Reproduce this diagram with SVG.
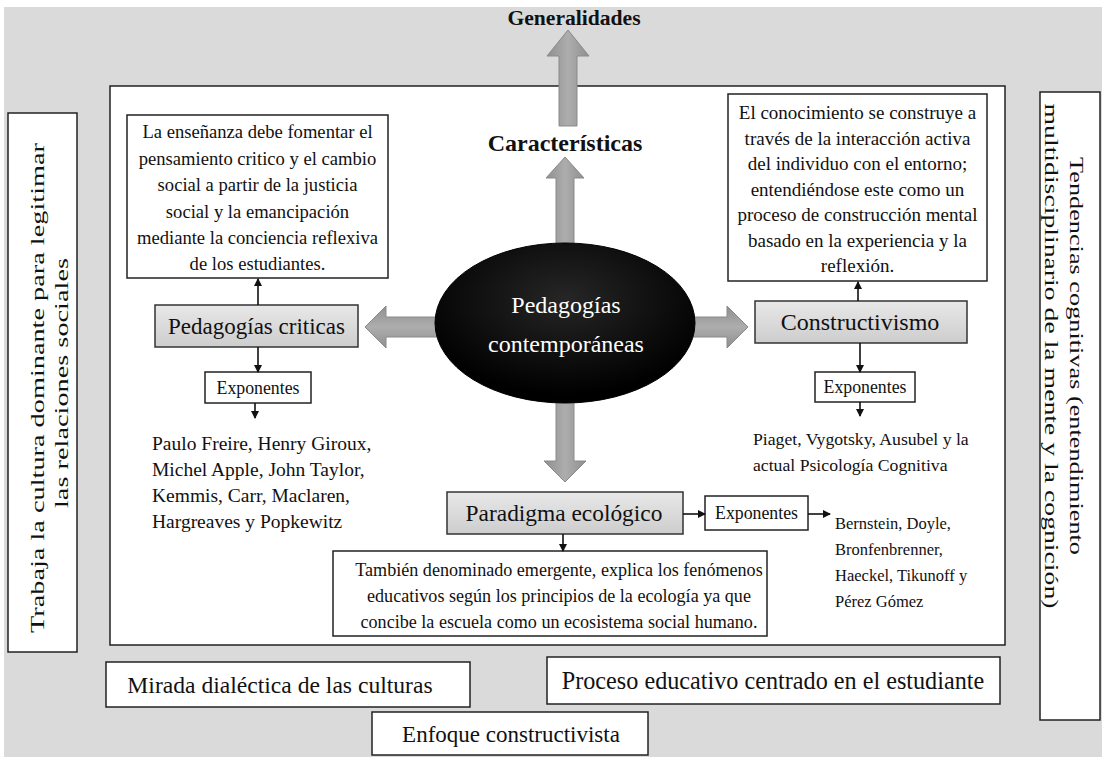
<svg xmlns="http://www.w3.org/2000/svg" width="1102" height="757" viewBox="0 0 1102 757">
<style>
text{font-family:"Liberation Serif","Times New Roman",serif;fill:#111}
.c{text-anchor:middle}
.box{fill:#fff;stroke:#222;stroke-width:1.5}
.gbox{fill:url(#gg);stroke:#333;stroke-width:1.5}
.blk{fill:url(#ag);stroke:#8a8a8a;stroke-width:1}
.blkv{fill:url(#agv);stroke:#8a8a8a;stroke-width:1}
.con{stroke:#111;stroke-width:1.6;fill:none;marker-end:url(#ah)}
.tl{font-size:18.6px}
.tr{font-size:19px}
.tn{font-size:19.5px}
.tp{font-size:17.7px}
.tb{font-size:16.5px}
.td{font-size:18.1px}
.tx{font-size:17.8px}
.b1{font-size:21.6px;font-weight:bold}
.b2{font-size:24px;font-weight:bold}
</style>
<defs>
<linearGradient id="gg" x1="0" y1="0" x2="0" y2="1"><stop offset="0" stop-color="#e8e8e8"/><stop offset="1" stop-color="#cdcdcd"/></linearGradient>
<linearGradient id="ag" x1="0" y1="0" x2="1" y2="0"><stop offset="0" stop-color="#8f8f8f"/><stop offset="0.5" stop-color="#adadad"/><stop offset="1" stop-color="#8f8f8f"/></linearGradient>
<linearGradient id="agv" x1="0" y1="0" x2="0" y2="1"><stop offset="0" stop-color="#8f8f8f"/><stop offset="0.5" stop-color="#adadad"/><stop offset="1" stop-color="#8f8f8f"/></linearGradient>
<radialGradient id="eg" cx="0.5" cy="0.35" r="0.6"><stop offset="0" stop-color="#262626"/><stop offset="1" stop-color="#000"/></radialGradient>
<marker id="ah" markerWidth="8" markerHeight="8" refX="7" refY="4" orient="auto" markerUnits="userSpaceOnUse"><path d="M0,0 L8,4 L0,8 z" fill="#111"/></marker>
</defs>
<rect width="1102" height="757" fill="#fff"/>
<rect x="4" y="7" width="1098" height="750" fill="#dadada"/>

<g id="main-frame"><rect x="110" y="86" width="895" height="559" class="box"/></g>

<g id="generalidades">
<text x="574" y="25" class="c b1">Generalidades</text>
</g>
<g id="caracteristicas">
<text x="565" y="151" class="c b2">Características</text>
</g>

<g id="block-arrows">
<polygon class="blk" points="568,30 589,56 577,56 577,126 559,126 559,56 547,56"/>
<polygon class="blk" points="565,157 584,178 574,178 574,250 556,250 556,178 546,178"/>
<polygon class="blkv" points="365,327 386,306 386,317 445,317 445,337 386,337 386,348"/>
<polygon class="blkv" points="748,327 727,306 727,317 685,317 685,337 727,337 727,348"/>
<polygon class="blk" points="565,482 544,461 556,461 556,395 574,395 574,461 586,461"/>
</g>

<g id="center">
<ellipse cx="565" cy="323" rx="130" ry="80" fill="url(#eg)" stroke="#000"/>
<text x="566" y="313" class="c" style="font-size:24px;fill:#fff">Pedagogías</text>
<text x="566" y="352" class="c" style="font-size:24px;fill:#fff">contemporáneas</text>
</g>

<g id="criticas-desc">
<rect x="127" y="115" width="261" height="163" class="box"/>
<text class="c tl" x="257.5" y="138">La enseñanza debe fomentar el</text>
<text class="c tl" x="257.5" y="164.5">pensamiento critico y el cambio</text>
<text class="c tl" x="257.5" y="191">social a partir de la justicia</text>
<text class="c tl" x="257.5" y="217.5">social y la emancipación</text>
<text class="c tl" x="257.5" y="244">mediante la conciencia reflexiva</text>
<text class="c tl" x="257.5" y="270">de los estudiantes.</text>
</g>
<g id="criticas">
<rect x="155" y="305" width="203" height="42" class="gbox"/>
<text class="c" style="font-size:23px" x="256.5" y="334">Pedagogías criticas</text>
</g>
<g id="criticas-exp">
<rect x="205" y="372" width="106" height="31" class="box"/>
<text class="c tx" x="258" y="394">Exponentes</text>
</g>
<g id="criticas-names">
<text class="tn" x="152" y="450">Paulo Freire, Henry Giroux,</text>
<text class="tn" x="152" y="476">Michel Apple, John Taylor,</text>
<text class="tn" x="152" y="502">Kemmis,  Carr, Maclaren,</text>
<text class="tn" x="152" y="528">Hargreaves y Popkewitz</text>
</g>

<g id="constr-desc">
<rect x="728" y="94" width="259" height="187" class="box"/>
<text class="c tr" x="857.5" y="119">El conocimiento se construye a</text>
<text class="c tr" x="857.5" y="144.5">través de la interacción activa</text>
<text class="c tr" x="857.5" y="170">del individuo  con el entorno;</text>
<text class="c tr" x="857.5" y="195.5">entendiéndose este como un</text>
<text class="c tr" x="857.5" y="221">proceso de construcción mental</text>
<text class="c tr" x="857.5" y="246.5">basado en la experiencia  y la</text>
<text class="c tr" x="857.5" y="272">reflexión.</text>
</g>
<g id="constructivismo">
<rect x="755" y="301" width="212" height="42" class="gbox"/>
<text class="c" style="font-size:24px" x="860" y="330">Constructivismo</text>
</g>
<g id="constr-exp">
<rect x="815" y="372" width="100" height="30" class="box"/>
<text class="c tx" x="865" y="393">Exponentes</text>
</g>
<g id="constr-names">
<text class="tp" x="753" y="445">Piaget,  Vygotsky, Ausubel y la</text>
<text class="tp" x="753" y="471">actual Psicología Cognitiva</text>
</g>

<g id="ecologico">
<rect x="447" y="492" width="236" height="42" class="gbox"/>
<text class="c" style="font-size:23.4px" x="564" y="521">Paradigma ecológico</text>
</g>
<g id="eco-exp">
<rect x="705" y="496" width="103" height="34" class="box"/>
<text class="c tx" x="756.5" y="519">Exponentes</text>
</g>
<g id="eco-names">
<text class="tb" x="835" y="529">Bernstein, Doyle,</text>
<text class="tb" x="835" y="555">Bronfenbrenner,</text>
<text class="tb" x="835" y="581">Haeckel, Tikunoff y</text>
<text class="tb" x="835" y="607">Pérez Gómez</text>
</g>
<g id="eco-desc">
<rect x="333" y="551" width="434" height="85" class="box"/>
<text class="c td" x="559" y="576">También denominado emergente, explica los fenómenos</text>
<text class="c td" x="559" y="602">educativos según los principios de la ecología ya que</text>
<text class="c td" x="559" y="628">concibe la escuela como un ecosistema social humano.</text>
</g>

<g id="left-side">
<rect x="8" y="113" width="69" height="539" class="box"/>
<text class="c" style="font-size:19px" transform="translate(44,388) rotate(-90)" x="0" y="0" textLength="490" lengthAdjust="spacingAndGlyphs">Trabaja la cultura dominante para legitimar</text>
<text class="c" style="font-size:19px" transform="translate(68,383) rotate(-90)" x="0" y="0" textLength="250" lengthAdjust="spacingAndGlyphs">las relaciones sociales</text>
</g>
<g id="right-side">
<rect x="1040" y="92" width="60" height="628" class="box"/>
<text class="c" style="font-size:19px" transform="translate(1070,356) rotate(90)" x="0" y="0" textLength="398" lengthAdjust="spacingAndGlyphs">Tendencias cognitivas (entendimiento</text>
<text class="c" style="font-size:19px" transform="translate(1045,356) rotate(90)" x="0" y="0" textLength="505" lengthAdjust="spacingAndGlyphs">multidisciplinario  de la mente y la cognición)</text>
</g>

<g id="mirada">
<rect x="106" y="662" width="364" height="45" class="box"/>
<text class="c" style="font-size:23.6px" x="280" y="693">Mirada dialéctica de las culturas</text>
</g>
<g id="proceso">
<rect x="547" y="657" width="453" height="47" class="box"/>
<text class="c" style="font-size:24.2px" x="773" y="689">Proceso educativo centrado en el estudiante</text>
</g>
<g id="enfoque">
<rect x="372" y="712" width="276" height="43" class="box"/>
<text class="c" style="font-size:23px" x="511" y="742">Enfoque constructivista</text>
</g>

<g id="connectors">
<line class="con" x1="258" y1="305" x2="258" y2="279"/>
<line class="con" x1="258" y1="347" x2="258" y2="372"/>
<line class="con" x1="255" y1="403" x2="255" y2="418"/>
<line class="con" x1="858" y1="301" x2="858" y2="282"/>
<line class="con" x1="860" y1="343" x2="860" y2="372"/>
<line class="con" x1="860" y1="402" x2="860" y2="416"/>
<line class="con" x1="683" y1="514" x2="705" y2="514"/>
<line class="con" x1="808" y1="514" x2="830" y2="514"/>
<line class="con" x1="563" y1="534" x2="563" y2="551"/>
</g>
</svg>
